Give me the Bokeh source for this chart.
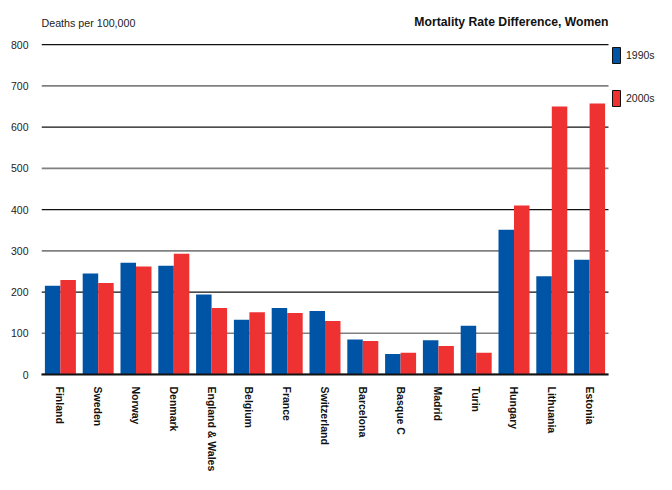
from bokeh.plotting import figure
from bokeh.models import (ColumnDataSource, Range1d, FixedTicker, Label, Legend, LegendItem)
from bokeh.transform import dodge
from bokeh.embed import file_html
from bokeh.resources import INLINE

categories = ["Finland", "Sweden", "Norway", "Denmark", "England & Wales", "Belgium",
              "France", "Switzerland", "Barcelona", "Basque C", "Madrid", "Turin",
              "Hungary", "Lithuania", "Estonia"]
women_1990s = [215, 245, 271, 264, 194, 133, 161, 154, 85, 50, 83, 118, 351, 238, 278]
women_2000s = [229, 222, 262, 293, 161, 151, 149, 130, 81, 53, 69, 53, 410, 650, 657]
series_names = ["1990s", "2000s"]
y_ticks_dark = [0, 200, 400, 600, 800]
y_ticks_grey = [100, 300, 500, 700]

BLUE = "#0054A6"
RED = "#EE3232"
FONT = "Liberation Sans"

n = len(categories)
xpos = [i + 0.5 for i in range(n)]
source = ColumnDataSource(dict(x=xpos, a=women_1990s, b=women_2000s))

X_END = 16.27   # frame continues to the right edge for the legend
Y_END = 907     # frame continues above 800 for the header texts

p = figure(width=656, height=474, x_range=Range1d(0, X_END), y_range=Range1d(0, Y_END),
           output_backend="svg", toolbar_location=None,
           min_border_left=41, min_border_right=0, min_border_top=0,
           min_border_bottom=0, outline_line_color=None)
p.xgrid.grid_line_color = None
p.ygrid.grid_line_color = None

# horizontal rules (alternating dark / grey)
p.segment(x0=[0] * len(y_ticks_dark), x1=[n] * len(y_ticks_dark), y0=y_ticks_dark,
          y1=y_ticks_dark, line_color="#111111", line_width=1.3)
p.segment(x0=[0] * len(y_ticks_grey), x1=[n] * len(y_ticks_grey), y0=y_ticks_grey,
          y1=y_ticks_grey, line_color="#808080", line_width=1.7)

p.vbar(x=dodge("x", -0.205), top="a", width=0.41, bottom=0,
       source=source, fill_color=BLUE, line_color=None)
p.vbar(x=dodge("x", 0.205), top="b", width=0.41, bottom=0,
       source=source, fill_color=RED, line_color=None)

# legend-only glyphs with dark outline (not drawn in the plot: NaN data)
nan = float("nan")
la = p.vbar(x=[nan], top=[nan], width=0.4, fill_color=BLUE, line_color="#111111", line_width=1)
lb = p.vbar(x=[nan], top=[nan], width=0.4, fill_color=RED, line_color="#111111", line_width=1)
legend = Legend(items=[LegendItem(label=series_names[0], renderers=[la]),
                       LegendItem(label=series_names[1], renderers=[lb])],
                location=(570, 266), padding=0, margin=0, spacing=23,
                glyph_width=10, glyph_height=20, label_standoff=5,
                border_line_color=None, background_fill_alpha=0,
                label_text_font=FONT, label_text_font_size="10.5px",
                label_text_color="#222222", label_text_baseline="top")
p.add_layout(legend, "center")

# y axis
p.yaxis.ticker = FixedTicker(ticks=sorted(y_ticks_dark + y_ticks_grey))
p.yaxis.bounds = (0, 800)
p.yaxis.axis_line_color = None
p.yaxis.major_tick_line_color = None
p.yaxis.minor_tick_line_color = None
p.yaxis.major_tick_out = 0
p.yaxis.minor_tick_out = 0
p.yaxis.major_label_standoff = 13
p.yaxis.major_label_text_font = FONT
p.yaxis.major_label_text_font_size = "10.5px"
p.yaxis.major_label_text_color = "#222222"

# x axis
p.xaxis.ticker = FixedTicker(ticks=xpos)
p.xaxis.major_label_overrides = {x: c for x, c in zip(xpos, categories)}
p.xaxis.bounds = (0, n)
p.xaxis.axis_line_color = "#111111"
p.xaxis.axis_line_width = 2
p.xaxis.major_tick_line_color = None
p.xaxis.minor_tick_line_color = None
p.xaxis.major_tick_out = 0
p.xaxis.minor_tick_out = 0
p.xaxis.major_label_orientation = "vertical"
p.xaxis.major_label_standoff = 12
p.xaxis.major_label_text_font = FONT
p.xaxis.major_label_text_font_style = "bold"
p.xaxis.major_label_text_font_size = "10.5px"
p.xaxis.major_label_text_color = "#111111"

p.add_layout(Label(x=0, y=800, y_offset=16, text="Deaths per 100,000",
                   text_font=FONT, text_font_size="10.7px", text_color="#222222",
                   text_align="left", text_baseline="bottom"))
p.add_layout(Label(x=n, y=800, y_offset=16,
                   text="Mortality Rate Difference, Women",
                   text_font=FONT, text_font_size="12.2px", text_font_style="bold",
                   text_color="#111111", text_align="right", text_baseline="bottom"))

open("out.html", "w").write(file_html(p, INLINE))
